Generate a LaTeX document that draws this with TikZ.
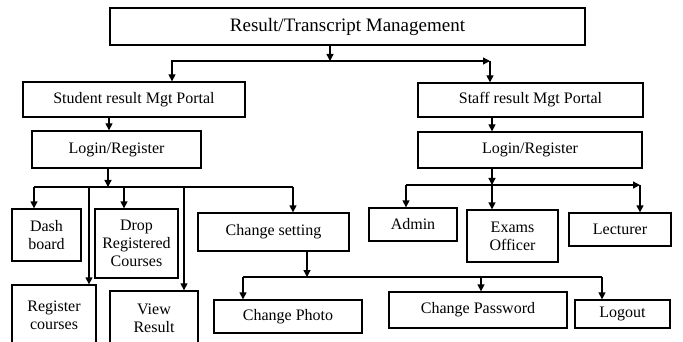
\documentclass[tikz,border=0pt]{standalone}
\usepackage{fontspec}
\setmainfont{Liberation Serif}
\usetikzlibrary{arrows.meta}
\begin{document}
\begin{tikzpicture}[x=1pt,y=-1pt,line width=1.3pt,
		box/.style={draw,rectangle,align=center,inner sep=1pt,font=\fontsize{16}{18}\selectfont},
		arr/.style={-{Triangle[length=7pt,width=7pt]}}]
		\clip (0,0) rectangle (683,342);
		
		\node[box,minimum width=475pt,minimum height=37pt,font=\fontsize{19}{21}\selectfont] (top) at (347.5,26.5) {Result/Transcript Management};
		\node[box,minimum width=222pt,minimum height=35pt] (student) at (134,99.5) {Student result Mgt Portal};
		\node[box,minimum width=169pt,minimum height=37pt] (slogin) at (116.5,149.5) {Login/Register};
		\node[box,minimum width=225pt,minimum height=34pt] (staff) at (530.5,100) {Staff result Mgt Portal};
		\node[box,minimum width=224pt,minimum height=36pt] (tlogin) at (530,150) {Login/Register};
		
		\node[box,minimum width=69pt,minimum height=52pt] (dash) at (46.5,235) {Dash\\board};
		\node[box,minimum width=83pt,minimum height=69pt] (drop) at (136.5,243.5) {Drop\\Registered\\Courses};
		\node[box,minimum width=151pt,minimum height=38pt] (setting) at (273.5,232) {Change setting};
		\node[box,minimum width=84pt,minimum height=60pt] (regc) at (54,315) {Register\\courses};
		\node[box,minimum width=88pt,minimum height=54pt] (view) at (154,318) {View\\Result};
		\node[box,minimum width=148pt,minimum height=33pt] (photo) at (288,316.5) {Change Photo};
		\node[box,minimum width=178pt,minimum height=36pt] (passwd) at (478,310) {Change Password};
		\node[box,minimum width=95pt,minimum height=28pt] (logout) at (622.5,314) {Logout};
		
		\node[box,minimum width=88pt,minimum height=33pt] (admin) at (413,224.5) {Admin};
		\node[box,minimum width=91pt,minimum height=52pt] (exams) at (512.5,236) {Exams\\Officer};
		\node[box,minimum width=102pt,minimum height=33pt] (lect) at (620,229.5) {Lecturer};
		
		\coordinate (j1) at (330,61);
		\coordinate (j1l) at (172,61);
		\coordinate (j1r) at (490,61);
		\coordinate (j2) at (108,187);
		\coordinate (sa) at (34,187);
		\coordinate (sb) at (89,187);
		\coordinate (sc) at (124,187);
		\coordinate (sd) at (184,187);
		\coordinate (se) at (293,187);
		\coordinate (j3) at (492,185);
		\coordinate (ta) at (406,185);
		\coordinate (tc) at (640,185);
		\coordinate (j4) at (307,277);
		\coordinate (pa) at (243,277);
		\coordinate (pb) at (481,277);
		\coordinate (pc) at (602,277);
		
		\draw[arr] (top.south -| j1) -- (j1);
		\draw[arr] (j1) -- (j1l) -- (student.north -| j1l);
		\draw[arr] (j1) -- (j1r);
		\draw[arr] (j1r) -- (staff.north -| j1r);
		\draw[arr] (student.south -| 109,0) -- (slogin.north -| 109,0);
		\draw[arr] (slogin.south -| j2) -- (j2);
		\draw (sa) -- (se);
		\draw[arr] (sa) -- (dash.north -| sa);
		\draw[arr] (sb) -- (regc.north -| sb);
		\draw[arr] (sc) -- (drop.north -| sc);
		\draw[arr] (sd) -- (view.north -| sd);
		\draw[arr] (se) -- (setting.north -| se);
		
		\draw[arr] (staff.south -| j3) -- (tlogin.north -| j3);
		\draw[arr] (tlogin.south -| j3) -- (j3);
		\draw[arr] (j3) -- (tc);
		\draw (j3) -- (ta);
		\draw[arr] (ta) -- (admin.north -| ta);
		\draw[arr] (j3) -- (exams.north -| j3);
		\draw[arr] (tc) -- (lect.north -| tc);
		
		\draw[arr] (setting.south -| j4) -- (j4);
		\draw (pa) -- (pc);
		\draw[arr] (pa) -- (photo.north -| pa);
		\draw[arr] (pb) -- (passwd.north -| pb);
		\draw[arr] (pc) -- (logout.north -| pc);
\end{tikzpicture}
\end{document}
